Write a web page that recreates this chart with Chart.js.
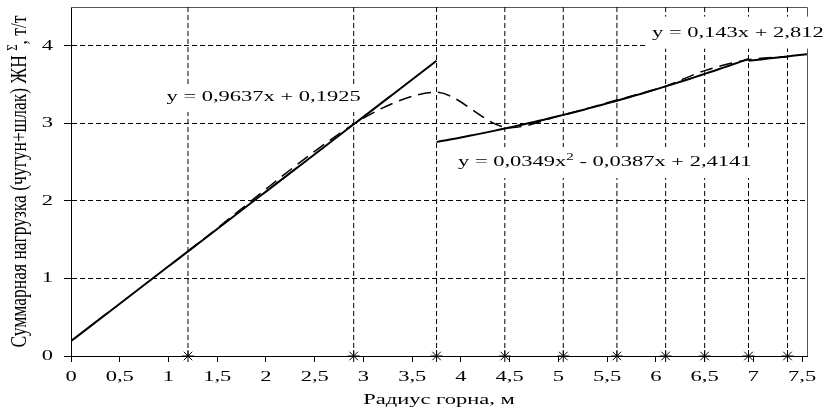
<!DOCTYPE html>
<html>
<head>
<meta charset="utf-8">
<script src="https://cdn.jsdelivr.net/npm/chart.js@4/dist/chart.umd.min.js"></script>
<style>
  html, body { margin: 0; padding: 0; background: #fff; }
  canvas { display: block; }
</style>
</head>
<body>
<canvas id="chart" width="825" height="411"></canvas>
<script>
// Hearth radius of each furnace, m
const radius = [1.2, 2.9, 3.75, 4.45, 5.05, 5.6, 6.1, 6.5, 6.95, 7.35];
// Total load (iron + slag) on the hearth, t/t
const load = [1.35, 2.99, 3.40, 2.95, 3.11, 3.30, 3.48, 3.68, 3.82, 3.86];

// Axis ticks
const xTicks = [0, 0.5, 1, 1.5, 2, 2.5, 3, 3.5, 4, 4.5, 5, 5.5, 6, 6.5, 7, 7.5];
const yTicks = [0, 1, 2, 3, 4];
const xRange = [0, 7.55];
const yRange = [0, 4.5];

// Trend lines: coefficients (highest power first) and the span each one covers
const trendSmallCoef = [0.9637, 0.1925];
const trendSmallSpan = [0, 3.75];
const trendMidCoef = [0.0349, -0.0387, 2.4141];
const trendMidSpan = [3.75, 6.95];
const trendLargeCoef = [0.143, 2.812];
const trendLargeSpan = [6.95, 7.55];

// Trend equation texts ([text, superscript?] pieces)
const eqSmall = [['y = 0,9637x + 0,1925', false]];
const eqMid = [['y = 0,0349x', false], ['2', true], [' - 0,0387x + 2,4141', false]];
const eqLarge = [['y = 0,143x + 2,812', false]];

const FONT_FAMILY = '"Liberation Serif", "Times New Roman", serif';
const FONT = '15px ' + FONT_FAMILY;
const SUP_FONT = '10px ' + FONT_FAMILY;
const TITLE_FONT = '17.5px ' + FONT_FAMILY;
const TITLE_SUP_FONT = '11px ' + FONT_FAMILY;
const STRETCH = 1.5;
const TITLE_STRETCH = 1.3;

function poly(coef, x) {
  return coef.reduce((acc, c) => acc * x + c, 0);
}

function trendPoints(coef, span, step) {
  const pts = [];
  const n = Math.round((span[1] - span[0]) / step);
  for (let i = 0; i <= n; i++) {
    const x = span[0] + (span[1] - span[0]) * i / n;
    pts.push({ x, y: poly(coef, x) });
  }
  return pts;
}

// vertical dashed guides at every measured radius, separated by gaps
const guides = [];
radius.forEach(r => {
  guides.push({ x: r, y: yRange[0] }, { x: r, y: yRange[1] }, { x: r, y: null });
});

const measured = radius.map((r, i) => ({ x: r, y: load[i] }));
const axisMarks = radius.map(r => ({ x: r, y: 0 }));

// width of a run of text pieces in unstretched units
function measureParts(ctx, parts, fonts) {
  return parts.map(p => {
    ctx.font = p[1] ? fonts[1] : fonts[0];
    return ctx.measureText(p[0]).width;
  });
}

// draws pieces of text stretched across the reading direction or along it
function drawParts(ctx, parts, x, y, align, rotate) {
  const fonts = rotate ? [TITLE_FONT, TITLE_SUP_FONT] : [FONT, SUP_FONT];
  ctx.save();
  ctx.translate(x, y);
  if (rotate) {
    ctx.rotate(-Math.PI / 2);
    ctx.scale(1, TITLE_STRETCH);
  } else {
    ctx.scale(STRETCH, 1);
  }
  ctx.fillStyle = '#000';
  ctx.textBaseline = 'middle';
  ctx.textAlign = 'left';
  const widths = measureParts(ctx, parts, fonts);
  const total = widths.reduce((a, b) => a + b, 0);
  let cx = align === 'center' ? -total / 2 : (align === 'right' ? -total : 0);
  parts.forEach((p, i) => {
    ctx.font = p[1] ? fonts[1] : fonts[0];
    ctx.fillText(p[0], cx, p[1] ? -5 : 0);
    cx += widths[i];
  });
  ctx.restore();
  return total;
}

function fmt(v) {
  return String(v).replace('.', ',');
}

// equation boxes: anchor in data units (left edge, vertical centre), box extent in px
const equations = [
  { parts: eqSmall, x: 0.98, y: 3.34, up: 13, down: 15 },
  { parts: eqMid, x: 3.97, y: 2.50, up: 15, down: 16 },
  { parts: eqLarge, x: 5.96, y: 4.17, up: 16, down: 16 }
];

const chartText = {
  id: 'chartText',
  beforeDatasetsDraw(chart) {
    const { ctx, chartArea: a } = chart;
    ctx.save();
    ctx.strokeStyle = '#555';
    ctx.lineWidth = 1;
    ctx.beginPath();
    ctx.moveTo(a.left, Math.round(a.top) + 0.5);
    ctx.lineTo(Math.round(a.right) + 0.5, Math.round(a.top) + 0.5);
    ctx.lineTo(Math.round(a.right) + 0.5, a.bottom);
    ctx.stroke();
    ctx.restore();
  },
  afterDatasetsDraw(chart) {
    const { ctx, scales } = chart;
    equations.forEach(eq => {
      const px = scales.x.getPixelForValue(eq.x);
      const py = scales.y.getPixelForValue(eq.y);
      ctx.save();
      const w = measureParts(ctx, eq.parts, [FONT, SUP_FONT]).reduce((a, b) => a + b, 0) * STRETCH;
      ctx.fillStyle = '#fff';
      ctx.fillRect(px - 4, py - eq.up, w + 8, eq.up + eq.down);
      ctx.restore();
      drawParts(ctx, eq.parts, px, py, 'left', false);
    });
  },
  afterDraw(chart) {
    const { ctx, scales, chartArea: a } = chart;
    xTicks.forEach(v => {
      drawParts(ctx, [[fmt(v), false]], scales.x.getPixelForValue(v), a.bottom + 21, 'center', false);
    });
    yTicks.forEach(v => {
      drawParts(ctx, [[fmt(v), false]], a.left - 18, scales.y.getPixelForValue(v), 'right', false);
    });
    drawParts(ctx, [['Радиус горна, м', false]], (a.left + a.right) / 2, a.bottom + 44, 'center', false);
    drawParts(ctx, [['Суммарная нагрузка (чугун+шлак) ЖН ', false], ['Σ', true], [', т/т', false]],
      20, (a.top + a.bottom) / 2, 'center', true);
  }
};

new Chart(document.getElementById('chart'), {
  type: 'line',
  data: {
    datasets: [
      {
        label: 'guides',
        data: guides,
        borderColor: '#000',
        borderWidth: 1,
        borderDash: [5, 3],
        pointRadius: 0,
        spanGaps: false,
        order: 10
      },
      {
        label: 'trend small',
        data: trendPoints(trendSmallCoef, trendSmallSpan, 0.05),
        borderColor: '#000',
        borderWidth: 2,
        pointRadius: 0,
        tension: 0,
        order: 5
      },
      {
        label: 'trend mid',
        data: trendPoints(trendMidCoef, trendMidSpan, 0.05),
        borderColor: '#000',
        borderWidth: 2,
        pointRadius: 0,
        tension: 0,
        order: 5
      },
      {
        label: 'trend large',
        data: trendPoints(trendLargeCoef, trendLargeSpan, 0.05),
        borderColor: '#000',
        borderWidth: 2,
        pointRadius: 0,
        tension: 0,
        order: 5
      },
      {
        label: 'measured',
        data: measured,
        borderColor: '#000',
        borderWidth: 1.5,
        borderDash: [13, 7],
        pointRadius: 0,
        tension: 0.3,
        order: 3
      },
      {
        label: 'marks',
        data: axisMarks,
        showLine: false,
        pointStyle: 'star',
        pointRadius: 6,
        borderColor: '#000',
        borderWidth: 1,
        clip: false,
        order: 1
      }
    ]
  },
  options: {
    responsive: false,
    devicePixelRatio: 1,
    animation: false,
    events: [],
    layout: { padding: { left: 0, right: 18, top: 7, bottom: 0 } },
    plugins: {
      legend: { display: false },
      tooltip: { enabled: false },
      title: { display: false }
    },
    scales: {
      x: {
        type: 'linear',
        min: xRange[0],
        max: xRange[1],
        afterBuildTicks: s => { s.ticks = xTicks.map(v => ({ value: v })); },
        afterFit: s => { s.height = 55; },
        ticks: { display: false },
        grid: {
          drawOnChartArea: false,
          drawTicks: true,
          tickLength: 6,
          tickColor: '#000',
          tickWidth: 1
        },
        border: { display: true, color: '#000', width: 1 }
      },
      y: {
        type: 'linear',
        min: yRange[0],
        max: yRange[1],
        afterBuildTicks: s => { s.ticks = yTicks.map(v => ({ value: v })); },
        afterFit: s => { s.width = 71; },
        ticks: { display: false },
        grid: {
          color: '#000',
          lineWidth: 1,
          drawTicks: true,
          tickLength: 7,
          tickColor: '#000',
          tickBorderDash: [],
          tickWidth: 1
        },
        border: { display: true, color: '#000', width: 1, dash: [5, 3] }
      }
    }
  },
  plugins: [chartText]
});
</script>
</body>
</html>
